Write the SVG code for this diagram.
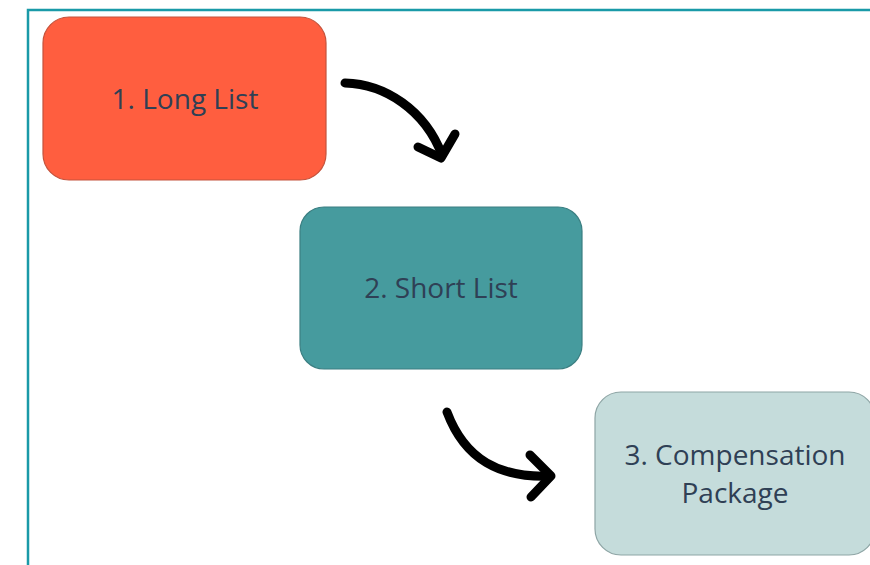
<svg xmlns="http://www.w3.org/2000/svg" width="870" height="565" viewBox="0 0 870 565">
<style>
.t{font-family:"Open Sans","Liberation Sans",sans-serif;font-size:28px;fill:#2f4055;text-anchor:middle;dominant-baseline:central}
.arr{fill:none;stroke:#000;stroke-width:9;stroke-linecap:round;stroke-linejoin:round}
</style>
<rect width="870" height="565" fill="#fff"/>
<path d="M28 565 V10 H870" fill="none" stroke="#1a9aa8" stroke-width="2.5"/>
<g id="node1"><rect x="43" y="17" width="283" height="163" rx="26" fill="#ff5e3f" stroke="#c4533c" stroke-width="1.2"/><text class="t" x="185" y="98">1. Long List</text></g>
<g id="node2"><rect x="300" y="207" width="282" height="162" rx="24" fill="#469b9e" stroke="#3b7f82" stroke-width="1.2"/><text class="t" x="441" y="287">2. Short List</text></g>
<g id="node3"><rect x="595" y="392" width="280" height="163" rx="26" fill="#c5dcdb" stroke="#8ea5a5" stroke-width="1.2"/><text class="t" x="735" y="454">3. Compensation</text><text class="t" x="735" y="492">Package</text></g>
<g id="connectors">
<path class="arr" d="M345 83 C385 84 425 110 442 155"/>
<path class="arr" d="M418 147 L441 158 L455 134"/>
<path class="arr" d="M447 412 C465 460 500 478 550 476"/>
<path class="arr" d="M530 455 L551 476 L531 497"/>
</g>
</svg>
